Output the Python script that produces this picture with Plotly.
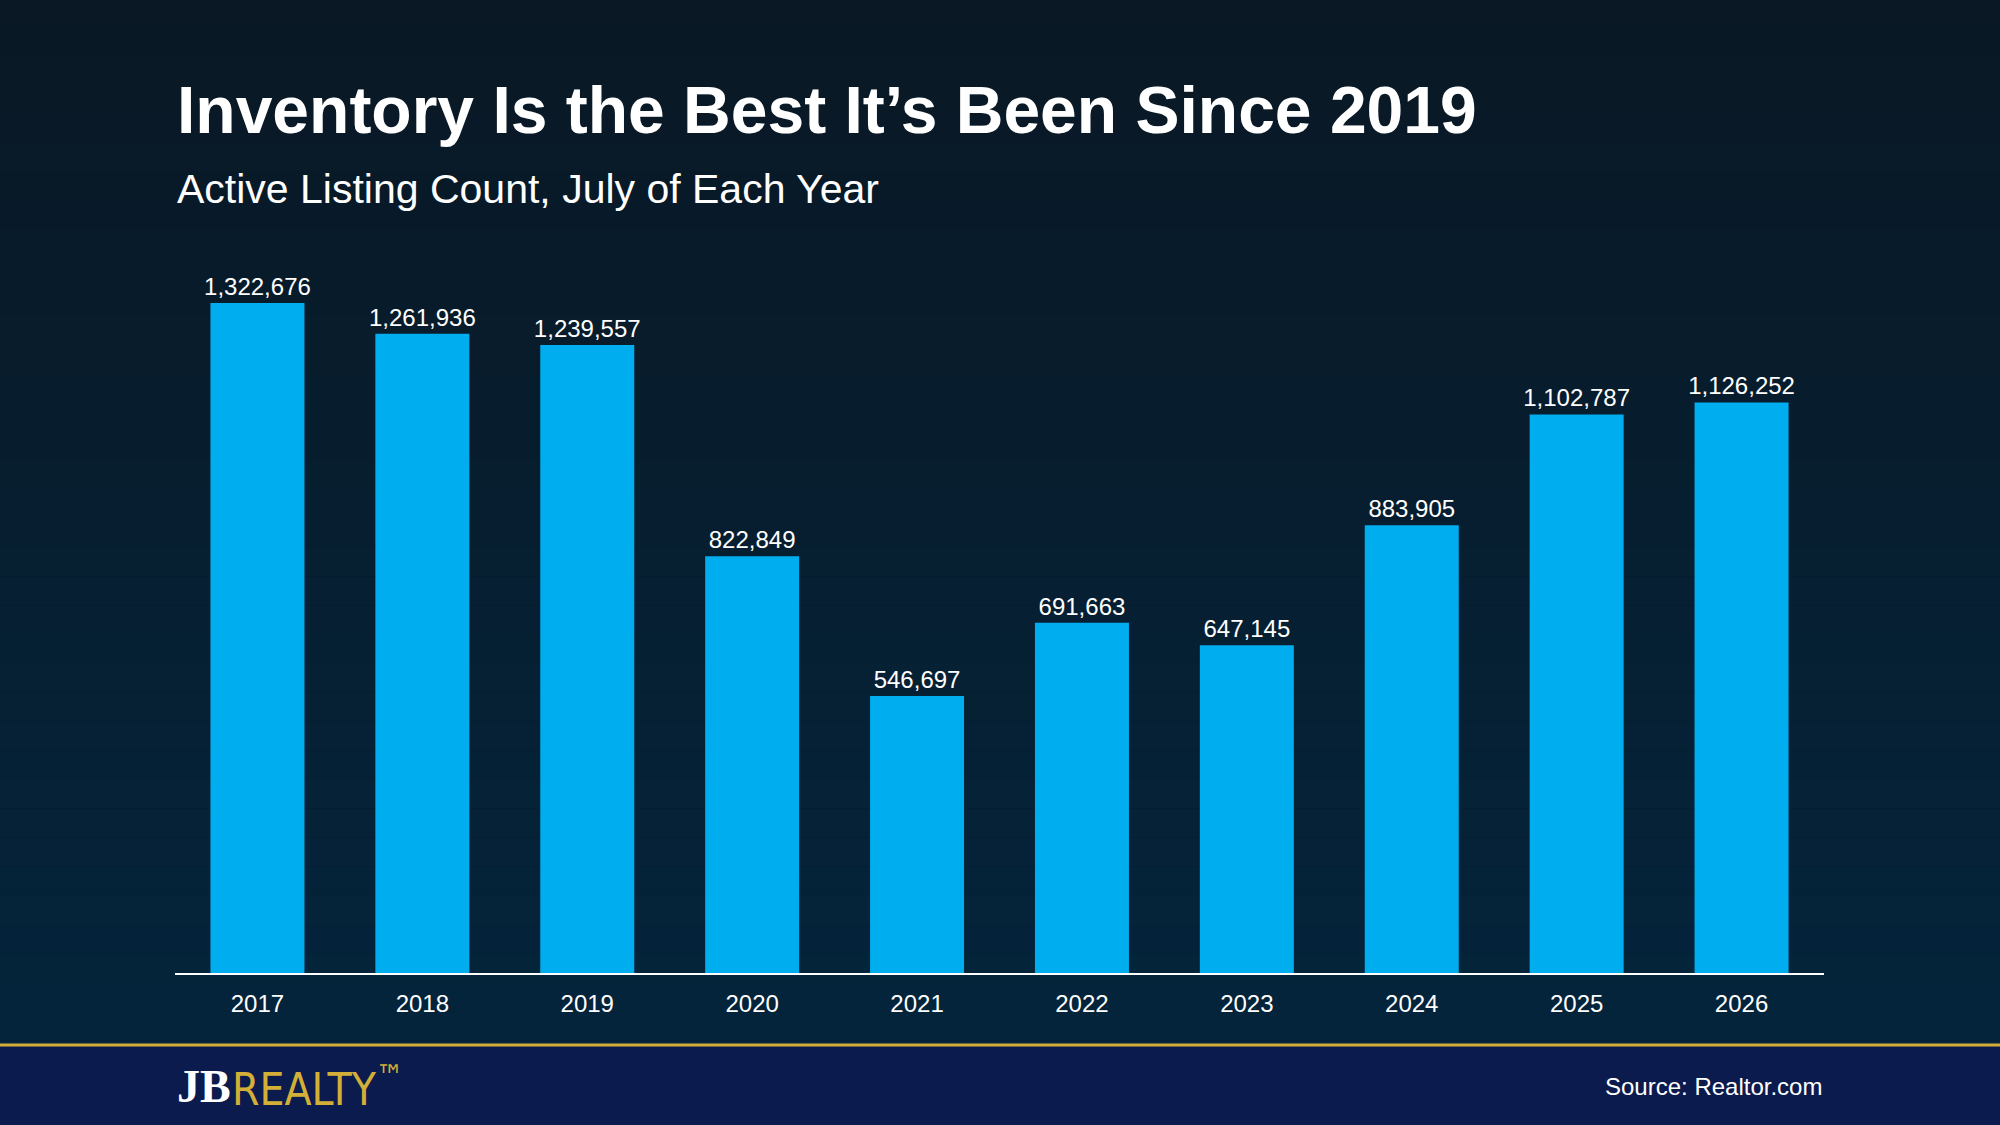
import plotly.graph_objects as go

years = ["2017","2018","2019","2020","2021","2022","2023","2024","2025","2026"]
counts = [1322676,1261936,1239557,822849,546697,691663,647145,883905,1102787,1126252]
labels = [f"{v:,}" for v in counts]

fig = go.Figure(go.Bar(x=years, y=counts, text=labels, textposition="outside",
    constraintext="none",
    marker=dict(color="#00adee", line=dict(width=0)), cliponaxis=False,
    textfont=dict(color="white", size=24, family="Liberation Sans")))

shapes = []
n = 40
top = (10, 24, 36); bot = (4, 38, 62)
for i in range(n):
    t = i/(n-1)
    c = tuple(int(top[k]+(bot[k]-top[k])*t) for k in range(3))
    shapes.append(dict(type="rect", xref="paper", yref="paper", layer="below",
        x0=-0.2, x1=1.2, y0=1.3-(i+1)*1.5/n, y1=1.3-i*1.5/n, line_width=0,
        fillcolor=f"rgb{c}"))
fy = -72/773
shapes.append(dict(type="rect", xref="paper", yref="paper", x0=-0.2, x1=1.2,
    y0=-0.6, y1=fy, fillcolor="#0b1b4d", line_width=0, layer="above"))
shapes.append(dict(type="line", xref="paper", yref="paper", x0=-0.2, x1=1.2,
    y0=fy, y1=fy, line=dict(color="#d4af37", width=3)))

ly = (973-1086)/773
fig.update_layout(
    width=2000, height=1125, margin=dict(l=175, r=176, t=200, b=152),
    paper_bgcolor="#07192a", plot_bgcolor="rgba(0,0,0,0)",
    bargap=0.43, showlegend=False, shapes=shapes,
    font=dict(family="Liberation Sans", color="white"),
    xaxis=dict(showline=True, linecolor="white", linewidth=2, ticks="",
               ticklabelstandoff=8,
               tickfont=dict(size=24, color="white"), range=[-0.5, 9.5]),
    yaxis=dict(visible=False, range=[0, 1526000], showgrid=False),
    annotations=[
        dict(text="<b>Inventory Is the Best It’s Been Since 2019</b>", xref="paper", yref="paper",
             x=0, y=(973-71)/773, xanchor="left", yanchor="top", showarrow=False,
             font=dict(size=66, color="white")),
        dict(text="Active Listing Count, July of Each Year", xref="paper", yref="paper",
             x=0, y=(973-164)/773, xanchor="left", yanchor="top", showarrow=False,
             font=dict(size=41, color="white")),
        dict(text="Source: Realtor.com", xref="paper", yref="paper", x=1, y=ly,
             xanchor="right", yanchor="middle", showarrow=False, font=dict(size=24, color="white")),
        dict(text="<b>JB</b>", xref="paper", yref="paper", x=0, y=ly,
             xanchor="left", yanchor="middle", showarrow=False,
             font=dict(size=46, color="white", family="Liberation Serif")),
        dict(text="REALTY<sup>™</sup>", xref="paper", yref="paper", x=(230-175)/1649, y=ly,
             xanchor="left", yanchor="middle", showarrow=False,
             font=dict(size=44, color="#d4af37", family="DejaVu Sans Condensed")),
    ])
fig.write_html("out.html", config={"displayModeBar": False},
               post_script="document.body.style.margin='0';document.body.style.overflow='hidden';")
